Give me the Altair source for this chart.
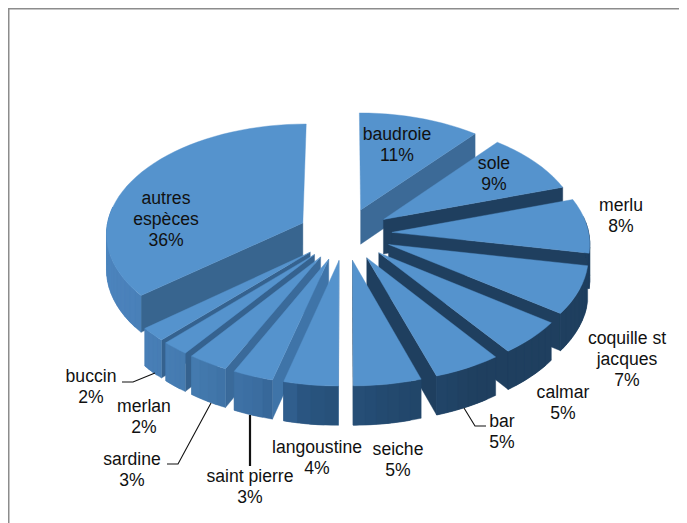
import math
import altair as alt
import pandas as pd

# ---- values
species = ["baudroie", "sole", "merlu", "coquille st\njacques", "calmar", "bar", "seiche",
           "langoustine", "saint pierre", "sardine", "merlan", "buccin", "autres\nespèces"]
shares = [11, 9, 8, 7, 5, 5, 5, 4, 3, 3, 2, 2, 36]

# ---- label first-line centres and leader lines (page pixels)
label_x = [397, 494, 621, 627, 563, 502, 398, 317, 250, 132, 144, 91, 166]
label_y = [135, 164, 206, 339, 393, 422, 450, 448, 477, 460, 407, 377, 199]
leader_paths = [[(122, 382), (133, 382), (155, 373)],
                [(167, 464), (178, 464), (211, 403)],
                [(250, 415), (250, 466)],
                [(464, 408), (475, 426), (486, 426)]]

# ---- pseudo-3D view settings
CX, CY, RADIUS, EXPLODE, SQUASH, PERSP, DEPTH = 345, 234, 197, 47, 0.556, 0.000447, 35
TOP = "#5593cd"
wall_stops = [(90, "#1f3f5f"), (150, "#1f3f5f"), (172, "#234a70"), (190, "#2a5682"), (197, "#3a6c9f"),
              (215, "#447aaf"), (235, "#4a81ba"), (270, "#4d86bf"), (300, "#4d86bf")]
radial_wall = {"baudroie": "#3c6a97", "autres\nespèces": "#38658f", "langoustine": "#4277ab",
               "saint pierre": "#3f74a8", "sardine": "#3a6a9a", "merlan": "#35628f", "buccin": "#35628f"}


def mix(deg):
    for (a, ca), (b, cb) in zip(wall_stops, wall_stops[1:]):
        if a <= deg <= b:
            t = (deg - a) / (b - a)
            rgb = [round(int(ca[i:i + 2], 16) * (1 - t) + int(cb[i:i + 2], 16) * t) for i in (1, 3, 5)]
            return "#%02x%02x%02x" % tuple(rgb)
    return wall_stops[0][1]


def project(X, Z, drop=0.0):
    p = 1 / (1 - PERSP * Z)
    return CX + X * p, CY + Z * SQUASH * p + drop * p


rows = []
pid = 0


def polygon(pts, fill):
    global pid
    pts = list(pts) + [pts[0]]
    for i, (x, y) in enumerate(pts):
        rows.append({"poly": f"p{pid:04d}", "seq": i, "x": x, "y": y, "fill": fill})
    pid += 1


slices, start = [], 0.0
for name, share in zip(species, shares):
    a0, a1 = start * 3.6, (start + share) * 3.6
    slices.append((name, a0, a1))
    start += share
slices.sort(key=lambda s: -math.cos(math.radians((s[1] + s[2]) / 2)))

for name, a0, a1 in slices:
    m = math.radians((a0 + a1) / 2)
    ox, oz = EXPLODE * math.sin(m), -EXPLODE * math.cos(m)
    pt = lambda deg, r=RADIUS: (ox + r * math.sin(math.radians(deg)), oz - r * math.cos(math.radians(deg)))
    n = max(4, int((a1 - a0) / 3))
    angles = [a0 + (a1 - a0) * i / n for i in range(n + 1)]
    right = (a0 + a1) / 2 < 180
    edge = a1 if right else a0
    wall_col = radial_wall.get(name, "#1f3f5f")
    # radial wall facing the viewer
    e = pt(edge)
    polygon([project(ox, oz), project(*e), project(*e, DEPTH), project(ox, oz, DEPTH)], wall_col)
    # outer wall: overlapping facets, so no seam shows between them
    visible = [b for b in angles if math.cos(math.radians(b)) < 0.15]
    for i in range(len(visible) - 1):
        b0, b1 = visible[i], visible[min(i + 2, len(visible) - 1)]
        arc = [b0 + (b1 - b0) * k / 4 for k in range(5)]
        polygon([project(*pt(b)) for b in arc] + [project(*pt(b), DEPTH) for b in reversed(arc)],
                mix((visible[i] + visible[i + 1]) / 2))
    # top
    polygon([project(ox, oz)] + [project(*pt(b)) for b in angles], TOP)

poly_df = pd.DataFrame(rows)
labels = pd.DataFrame({"x": label_x, "y": label_y,
                       "text": [f"{s}\n{v}%" for s, v in zip(species, shares)]})
leaders = pd.DataFrame([{"id": i, "seq": j, "x": x, "y": y, "w": 2.2 if i == 2 else 1.1}
                        for i, path in enumerate(leader_paths) for j, (x, y) in enumerate(path)])
frame = pd.DataFrame({"seq": [0, 1, 2], "x": [8.5, 8.5, 679], "y": [523, 8.5, 8.5]})

xs = alt.Scale(domain=[8, 679], nice=False, zero=False)
ys = alt.Scale(domain=[8, 523], nice=False, zero=False, reverse=True)
X = alt.X("x:Q", scale=xs, axis=None)
Y = alt.Y("y:Q", scale=ys, axis=None)

slices_layer = alt.Chart(poly_df).mark_line(strokeWidth=0.4).encode(
    x=X, y=Y, order="seq:Q", detail="poly:N",
    fill=alt.Fill("fill:N", scale=None), stroke=alt.Stroke("fill:N", scale=None))
frame_layer = alt.Chart(frame).mark_line(color="#8c8c8c", strokeWidth=2).encode(x=X, y=Y, order="seq:Q")
leader_layer = alt.Chart(leaders).mark_line(color="#111111").encode(
    x=X, y=Y, order="seq:Q", detail="id:N", strokeWidth=alt.StrokeWidth("w:Q", scale=None))
text_layer = alt.Chart(labels).mark_text(font="Liberation Sans", fontSize=17.6, lineHeight=21, color="#111111",
                                         lineBreak="\n", baseline="middle", align="center").encode(
    x=X, y=Y, text="text:N")

chart = alt.layer(frame_layer, slices_layer, leader_layer, text_layer).properties(
    width=671, height=515, padding=0, autosize=alt.AutoSizeParams(type="none"),
    background="white").configure_view(stroke=None)
chart.save("out.html", embed_options={"renderer": "svg", "actions": False})
